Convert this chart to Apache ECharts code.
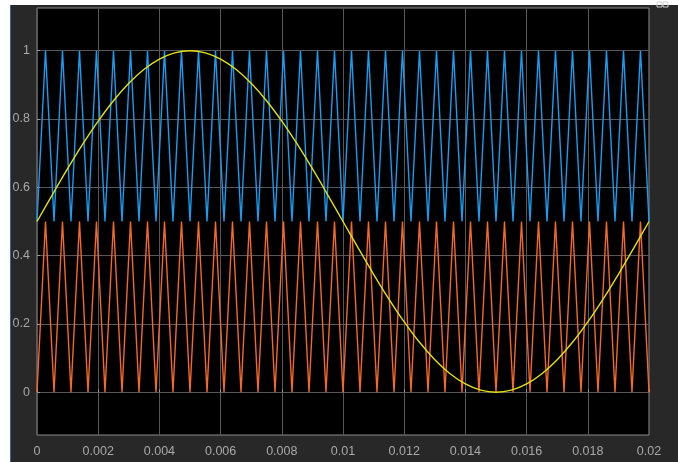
<!DOCTYPE html>
<html>
<head>
<meta charset="utf-8">
<script src="https://cdn.jsdelivr.net/npm/echarts@6/dist/echarts.min.js"></script>
<style>
html,body{margin:0;padding:0;background:#fff;}
#chart{width:678px;height:462px;}
</style>
</head>
<body>
<div id="chart"></div>
<script>
// Vertex times of the triangle carriers (s)
const carrierTimes = [0,0.000278,0.000556,0.000833,0.001111,0.001389,0.001667,0.001944,0.002222,0.0025,
0.002778,0.003056,0.003333,0.003611,0.003889,0.004167,0.004444,0.004722,0.005,0.005278,
0.005556,0.005833,0.006111,0.006389,0.006667,0.006944,0.007222,0.0075,0.007778,0.008056,
0.008333,0.008611,0.008889,0.009167,0.009444,0.009722,0.01,0.010278,0.010556,0.010833,
0.011111,0.011389,0.011667,0.011944,0.012222,0.0125,0.012778,0.013056,0.013333,0.013611,
0.013889,0.014167,0.014444,0.014722,0.015,0.015278,0.015556,0.015833,0.016111,0.016389,
0.016667,0.016944,0.017222,0.0175,0.017778,0.018056,0.018333,0.018611,0.018889,0.019167,
0.019444,0.019722,0.02];
// Upper carrier (blue) vertex values
const upperCarrier = [0.5,1,0.5,1,0.5,1,0.5,1,0.5,1,0.5,1,0.5,1,0.5,1,0.5,1,0.5,1,
0.5,1,0.5,1,0.5,1,0.5,1,0.5,1,0.5,1,0.5,1,0.5,1,0.5,1,0.5,1,
0.5,1,0.5,1,0.5,1,0.5,1,0.5,1,0.5,1,0.5,1,0.5,1,0.5,1,0.5,1,
0.5,1,0.5,1,0.5,1,0.5,1,0.5,1,0.5,1,0.5];
// Lower carrier (orange) vertex values
const lowerCarrier = [0,0.5,0,0.5,0,0.5,0,0.5,0,0.5,0,0.5,0,0.5,0,0.5,0,0.5,0,0.5,
0,0.5,0,0.5,0,0.5,0,0.5,0,0.5,0,0.5,0,0.5,0,0.5,0,0.5,0,0.5,
0,0.5,0,0.5,0,0.5,0,0.5,0,0.5,0,0.5,0,0.5,0,0.5,0,0.5,0,0.5,
0,0.5,0,0.5,0,0.5,0,0.5,0,0.5,0,0.5,0];
// Reference (yellow) samples
const refTimes = [0,0.0005,0.001,0.0015,0.002,0.0025,0.003,0.0035,0.004,0.0045,
0.005,0.0055,0.006,0.0065,0.007,0.0075,0.008,0.0085,0.009,0.0095,
0.01,0.0105,0.011,0.0115,0.012,0.0125,0.013,0.0135,0.014,0.0145,
0.015,0.0155,0.016,0.0165,0.017,0.0175,0.018,0.0185,0.019,0.0195,0.02];
const refValues = [0.5,0.5782,0.6545,0.7270,0.7939,0.8536,0.9045,0.9455,0.9755,0.9938,
1,0.9938,0.9755,0.9455,0.9045,0.8536,0.7939,0.7270,0.6545,0.5782,
0.5,0.4218,0.3455,0.2730,0.2061,0.1464,0.0955,0.0545,0.0245,0.0062,
0,0.0062,0.0245,0.0545,0.0955,0.1464,0.2061,0.2730,0.3455,0.4218,0.5];
const yTicks = [0,0.2,0.4,0.6,0.8,1];

const zip = (xs, ys) => xs.map((x, i) => [x, ys[i]]);

const chart = echarts.init(document.getElementById('chart'));
chart.setOption({
  backgroundColor: '#ffffff',
  animation: false,
  graphic: [
    {type:'rect', shape:{x:10,y:5,width:668,height:457}, style:{fill:'#282828'}, z:-10, silent:true},
    {type:'rect', shape:{x:10,y:5,width:1,height:457}, style:{fill:'#3d6486'}, z:-9, silent:true},
    {type:'rect', shape:{x:657,y:2,width:5,height:5}, style:{fill:'none', stroke:'#cfcfcf', lineWidth:1}, silent:true},
    {type:'rect', shape:{x:663,y:2,width:5,height:5}, style:{fill:'none', stroke:'#cfcfcf', lineWidth:1}, silent:true}
  ],
  grid: {left:37, top:8, right:29, bottom:27, show:true, backgroundColor:'#000000', borderColor:'#8c8c8c', borderWidth:1},
  xAxis: {
    type:'value', min:0, max:0.02, interval:0.002,
    axisLine:{show:false},
    axisTick:{show:true, inside:true, length:3, lineStyle:{color:'#9a9a9a'}},
    axisLabel:{color:'#a8a8a8', fontFamily:'Liberation Sans, Arial', fontSize:12.5, margin:10},
    splitLine:{show:true, lineStyle:{color:'#575757', width:1}}
  },
  yAxis: {
    type:'value', min:-0.125, max:1.125,
    axisLine:{show:false},
    axisTick:{show:true, inside:true, length:3, customValues:yTicks, lineStyle:{color:'#9a9a9a'}},
    axisLabel:{color:'#a8a8a8', fontFamily:'Liberation Sans, Arial', fontSize:12.5, margin:7, customValues:yTicks},
    splitLine:{show:true, lineStyle:{color:'#575757', width:1}}
  },
  series: [
    {type:'line', data:zip(carrierTimes, upperCarrier), symbol:'none', lineStyle:{color:'#1a9cf0', width:1.4}, z:2},
    {type:'line', data:zip(carrierTimes, lowerCarrier), symbol:'none', lineStyle:{color:'#f4682a', width:1.4}, z:2},
    {type:'line', data:zip(refTimes, refValues), symbol:'none', smooth:0.3, lineStyle:{color:'#e0e018', width:1.4}, z:3}
  ]
});
</script>
</body>
</html>
